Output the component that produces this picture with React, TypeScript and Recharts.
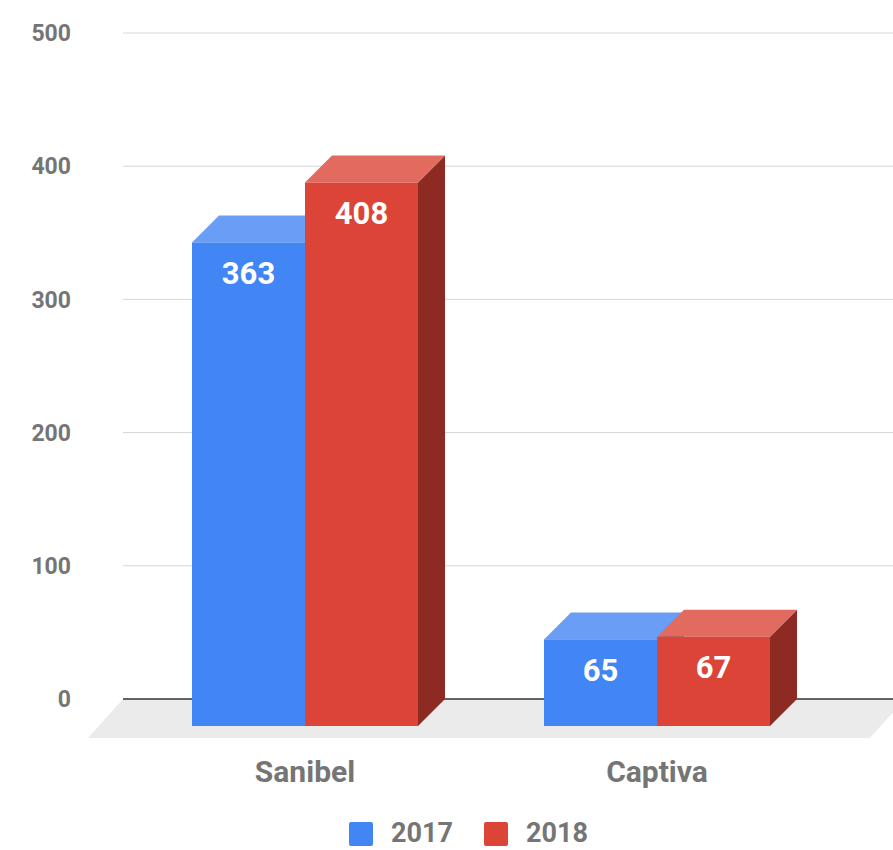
import React from 'react';
import { BarChart, Bar, XAxis, YAxis, CartesianGrid, Legend, LabelList } from 'recharts';

const categories = ['Sanibel', 'Captiva'];
const values2017 = [363, 65];
const values2018 = [408, 67];
const yTicks = [0, 100, 200, 300, 400, 500];
const seriesNames = ['2017', '2018'];

const data = categories.map((c, i) => ({ name: c, v2017: values2017[i], v2018: values2018[i] }));

const DX = 27;
const DY = 27;
const FONT = 'Roboto, "Noto Sans", sans-serif';
const GRAY = '#757575';

const palettes: Record<string, { front: string; top: string; side: string }> = {
  blue: { front: '#4285f4', top: '#6a9ef6', side: '#2f5fb3' },
  red: { front: '#db4437', top: '#e26a5f', side: '#8d2a22' },
};

const makeShape = (pal: { front: string; top: string; side: string }) => (props: any) => {
  const { x, y, width, height } = props;
  if (x == null || y == null) return null;
  const fx = x - DX;
  const fy = y + DY;
  const top = `${fx},${fy} ${fx + width},${fy} ${x + width},${y} ${x},${y}`;
  const side = `${fx + width},${fy} ${x + width},${y} ${x + width},${y + height} ${fx + width},${fy + height}`;
  return (
    <g>
      <polygon points={side} fill={pal.side} />
      <polygon points={top} fill={pal.top} />
      <rect x={fx} y={fy} width={width} height={height} fill={pal.front} />
    </g>
  );
};

const renderLabel = (props: any) => {
  const { x, y, width, value } = props;
  return (
    <text
      x={x - DX + width / 2}
      y={y + DY + 31}
      textAnchor="middle"
      dominantBaseline="central"
      fill="#ffffff"
      fontFamily={FONT}
      fontWeight="bold"
      fontSize={31}
    >
      {value}
    </text>
  );
};

const gridLine = (p: any) => {
  const isBottom =
    p.y != null && p.height != null ? Math.abs(p.y1 - (p.y + p.height)) < 1 : p.index === 0;
  if (isBottom) {
    const fh = 39;
    const off = 35;
    const ext = 12;
    return (
      <g key={p.key}>
        <polygon
          points={`${p.x1},${p.y1} ${p.x2 + ext},${p.y1} ${p.x2 + ext - off},${p.y1 + fh} ${p.x1 - off},${p.y1 + fh}`}
          fill="#ebebeb"
        />
        <line x1={p.x1} y1={p.y1} x2={p.x2} y2={p.y2} stroke="#333333" strokeWidth={1.5} />
      </g>
    );
  }
  return <line key={p.key} x1={p.x1} y1={p.y1} x2={p.x2} y2={p.y2} stroke="#d6d6d6" strokeWidth={1} />;
};

const CategoryTick = (props: any) => {
  const { x, y, payload } = props;
  return (
    <text
      x={x - DX}
      y={y + 72}
      textAnchor="middle"
      dominantBaseline="central"
      fill={GRAY}
      fontFamily={FONT}
      fontWeight="bold"
      fontSize={30}
    >
      {payload.value}
    </text>
  );
};

const legendColors = [palettes.blue.front, palettes.red.front];

const LegendContent = () => (
  <div style={{ height: 40, width: 893, position: 'relative' }}>
    <div
      style={{
        display: 'flex',
        alignItems: 'center',
        height: 27,
        marginTop: 10,
        paddingLeft: 349,
        fontFamily: FONT,
      }}
    >
      {seriesNames.map((n, i) => (
        <div key={n} style={{ display: 'flex', alignItems: 'center', marginRight: 31 }}>
          <div style={{ width: 24, height: 24, borderRadius: 2, background: legendColors[i], marginRight: 18 }} />
          <span style={{ fontSize: 27, fontWeight: 'bold', color: GRAY, lineHeight: '27px' }}>{n}</span>
        </div>
      ))}
    </div>
  </div>
);

export default function App() {
  return (
    <div style={{ position: 'absolute', left: 0, top: 0, width: 893, height: 850, background: '#fff', overflow: 'hidden' }}>
      <BarChart
        width={893}
        height={850}
        data={data}
        margin={{ top: 33, right: 0, left: 0, bottom: 0 }}
        barGap={0}
      >
        <CartesianGrid vertical={false} horizontal={gridLine} />
        <XAxis
          dataKey="name"
          height={111}
          padding={{ left: 33, right: 33 }}
          axisLine={false}
          tickLine={false}
          tickSize={0}
          tickMargin={0}
          tick={<CategoryTick />}
          interval={0}
        />
        <YAxis
          width={123}
          domain={[0, 500]}
          ticks={yTicks}
          axisLine={false}
          tickLine={false}
          tickSize={0}
          tickMargin={52}
          tick={{ fill: GRAY, fontFamily: FONT, fontWeight: 'bold', fontSize: 23 }}
        />
        <Legend verticalAlign="bottom" height={40} content={<LegendContent />} />
        <Bar dataKey="v2017" name="2017" barSize={113} shape={makeShape(palettes.blue)} isAnimationActive={false}>
          <LabelList dataKey="v2017" content={renderLabel} />
        </Bar>
        <Bar dataKey="v2018" name="2018" barSize={113} shape={makeShape(palettes.red)} isAnimationActive={false}>
          <LabelList dataKey="v2018" content={renderLabel} />
        </Bar>
      </BarChart>
    </div>
  );
}
